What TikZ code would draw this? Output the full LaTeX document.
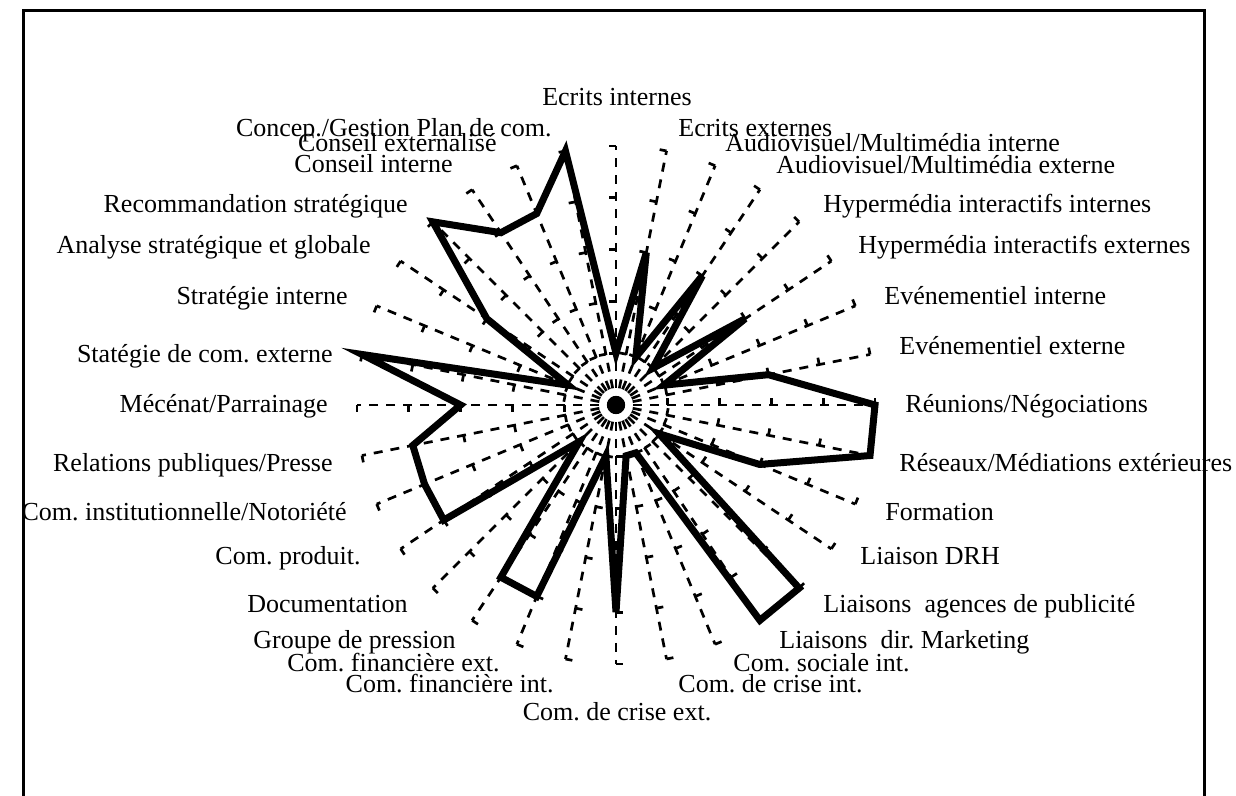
\documentclass[tikz,border=0pt]{standalone}
\usepackage{fontspec}
\setmainfont{Liberation Serif}
\frenchspacing

\begin{document}
\begin{tikzpicture}[x=0.5pt, y=0.5pt,
  lbl/.style={inner sep=0pt, text height=8.6pt, text depth=0pt, font=\fontsize{13}{15}\selectfont},
  spoke/.style={line width=1.35pt, dash pattern=on 4.5pt off 4pt},
  tickmark/.style={line width=1.35pt},
  series/.style={line width=3.5pt, line join=miter},
  frame/.style={line width=1.5pt}]

\useasboundingbox (0,0) rectangle (1236,796);
\draw [frame] (23.5,0) |- (1204.5,785.5) -- (1204.5,0);

\begin{scope}[shift={(616,391)}]
\foreach \k in {0,...,31}{
  \pgfmathsetmacro\ang{90-11.25*\k}
  \draw [spoke] (0,0) -- (\ang:259);
  \foreach \j in {1,...,5}
    \draw [tickmark] (\ang:51.8*\j) -- ++(\ang+90:7);
}

\draw [series] (90:51.8) -- (78.75:155.4) -- (67.5:51.8) -- (56.25:155.4)
  -- (45:51.8) -- (33.75:155.4) -- (22.5:51.8) -- (11.25:155.4)
  -- (0:259) -- (-11.25:259) -- (-22.5:155.4) -- (-33.75:51.8)
  -- (-45:259) -- (-56.25:259) -- (-67.5:51.8) -- (-78.75:51.8)
  -- (-90:207.2) -- (-101.25:51.8) -- (-112.5:207.2) -- (-123.75:207.2)
  -- (-135:51.8) -- (-146.25:207.2) -- (-157.5:207.2) -- (-168.75:207.2)
  -- (-180:155.4) -- (-191.25:259) -- (-202.5:51.8) -- (-213.75:155.4)
  -- (-225:259) -- (-236.25:207.2) -- (-247.5:207.2) -- (-258.75:259) -- cycle;
\end{scope}

\node [lbl] (l1) at (617,699) {Ecrits internes};
\node [lbl, anchor=west] (l2) at (678,668) {Ecrits externes};
\node [lbl, anchor=west] (l3) at (725,653) {Audiovisuel/Multimédia interne};
\node [lbl, anchor=west] (l4) at (776,631) {Audiovisuel/Multimédia externe};
\node [lbl, anchor=west] (l5) at (823,592) {Hypermédia interactifs internes};
\node [lbl, anchor=west] (l6) at (858,551) {Hypermédia interactifs externes};
\node [lbl, anchor=west] (l7) at (884,500) {Evénementiel interne};
\node [lbl, anchor=west] (l8) at (899,450) {Evénementiel externe};
\node [lbl, anchor=west] (l9) at (905,392) {Réunions/Négociations};
\node [lbl, anchor=west] (l10) at (899,333) {Réseaux/Médiations extérieures};
\node [lbl, anchor=west] (l11) at (885,284) {Formation};
\node [lbl, anchor=west] (l12) at (860,240) {Liaison DRH};
\node [lbl, anchor=west] (l13) at (823,192) {Liaisons\ \ agences de publicité};
\node [lbl, anchor=west] (l14) at (779,156) {Liaisons\ \ dir. Marketing};
\node [lbl, anchor=west] (l15) at (733,133) {Com. sociale int.};
\node [lbl, anchor=west] (l16) at (678,112) {Com. de crise int.};
\node [lbl] (l17) at (617,84) {Com. de crise ext.};
\node [lbl, anchor=east] (l18) at (554,112) {Com. financière int.};
\node [lbl, anchor=east] (l19) at (500,133) {Com. financière ext.};
\node [lbl, anchor=east] (l20) at (456,156) {Groupe de pression};
\node [lbl, anchor=east] (l21) at (408,192) {Documentation};
\node [lbl, anchor=east] (l22) at (361,240) {Com. produit.};
\node [lbl, anchor=east] (l23) at (347,284) {Com. institutionnelle/Notoriété};
\node [lbl, anchor=east] (l24) at (333,333) {Relations publiques/Presse};
\node [lbl, anchor=east] (l25) at (328,392) {Mécénat/Parrainage};
\node [lbl, anchor=east] (l26) at (333,442) {Statégie de com. externe};
\node [lbl, anchor=east] (l27) at (348,500) {Stratégie interne};
\node [lbl, anchor=east] (l28) at (371,551) {Analyse stratégique et globale};
\node [lbl, anchor=east] (l29) at (408,592) {Recommandation stratégique};
\node [lbl, anchor=east] (l30) at (453,632) {Conseil interne};
\node [lbl, anchor=east] (l31) at (497,653) {Conseil externalisé};
\node [lbl, anchor=east] (l32) at (552,668) {Concep./Gestion Plan de com.};
\end{tikzpicture}
\end{document}
